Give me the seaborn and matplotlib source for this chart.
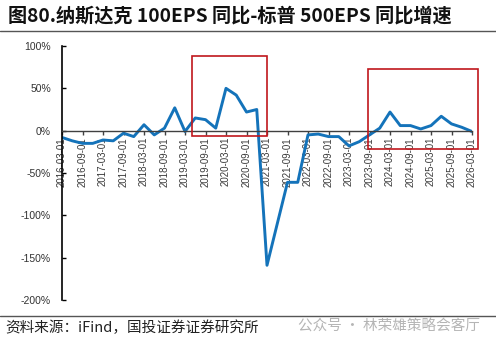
import matplotlib
matplotlib.use("Agg")
import matplotlib.pyplot as plt
import seaborn as sns
import pandas as pd
import numpy as np
from matplotlib.patches import Rectangle
from matplotlib.lines import Line2D

sns.set_theme(style="white")
plt.rcParams['font.family'] = ['Noto Sans CJK SC', 'DejaVu Sans']

# ---- data ----
dates = pd.date_range("2016-03-01", "2026-03-01", freq="3MS").strftime("%Y-%m-%d").tolist()
spread = [-8, -12, -15, -15, -11, -12, -3, -7, 7, -5,
          3, 27, -1, 15, 13, 3, 50, 42, 22, 25,
          -159, -110, -61, -61, -5, -4, -7, -7, -18, -13,
          -5, 3, 22, 6, 6, 2, 6, 17, 8, 4, -1]
yticks = [100, 50, 0, -50, -100, -150, -200]
ytick_labels = ["100%", "50%", "0%", "-50%", "-100%", "-150%", "-200%"]
# highlighted regions: (start idx, end idx, low %, high %)
boxes = [(12.7, 20.0, -6, 88), (29.9, 40.6, -21.5, 72.5)]

title = "图80.纳斯达克 100EPS 同比-标普 500EPS 同比增速"
source = "资料来源：iFind，国投证券证券研究所"
watermark = "公众号 · 林荣雄策略会客厅"

df = pd.DataFrame({"idx": np.arange(len(dates)), "date": dates, "val": spread})

fig = plt.figure(figsize=(4.96, 3.45), dpi=100)
ax = fig.add_axes([62/496, 1-300/345, 410/496, 254/345])

sns.lineplot(data=df, x="idx", y="val", ax=ax, color="#1473BA", linewidth=2.1)

ax.set_xlim(0, len(dates) - 1)
ax.set_ylim(-200, 100)
ax.set_xlabel("")
ax.set_ylabel("")

for s in ["top", "right"]:
    ax.spines[s].set_visible(False)
ax.spines["left"].set_color("black")
ax.spines["left"].set_linewidth(1.2)
ax.spines["bottom"].set_position(("data", 0))
ax.spines["bottom"].set_color("#404040")
ax.spines["bottom"].set_linewidth(1.0)

ax.set_yticks(yticks)
ax.set_yticklabels(ytick_labels, family=["Liberation Sans", "DejaVu Sans"], fontsize=7.5, color="#333333")
ax.tick_params(axis="y", direction="in", length=3, width=1, color="black", pad=8, left=True)

xt = list(range(0, len(dates), 2))
ax.set_xticks(xt)
ax.set_xticklabels([dates[i] for i in xt], rotation=90, family=["Liberation Sans", "DejaVu Sans"],
                   fontsize=7, color="#3a3a3a")
ax.tick_params(axis="x", direction="out", length=3, width=1, color="#404040", pad=1.5, bottom=True)

for x0, x1, y0, y1 in boxes:
    ax.add_patch(Rectangle((x0, y0), x1 - x0, y1 - y0, fill=False, edgecolor="#C0161C",
                           linewidth=1.2, zorder=5, clip_on=False))

fig.text(8/496, 1-16/345, title, fontsize=13.8, fontweight="bold", va="center", ha="left", color="#111111")
fig.add_artist(Line2D([0, 1], [1-31/345, 1-31/345], color="#555555", linewidth=1.0))
fig.add_artist(Line2D([0, 1], [1-316/345, 1-316/345], color="#555555", linewidth=1.0))
fig.text(5/496, 1-328/345, source, fontsize=10.5, va="center", ha="left", color="#222222")
fig.text(298/496, 1-326/345, watermark, fontsize=10.5, va="center", ha="left", color="#b5b5b5")

fig.savefig("out.png", dpi=100)
